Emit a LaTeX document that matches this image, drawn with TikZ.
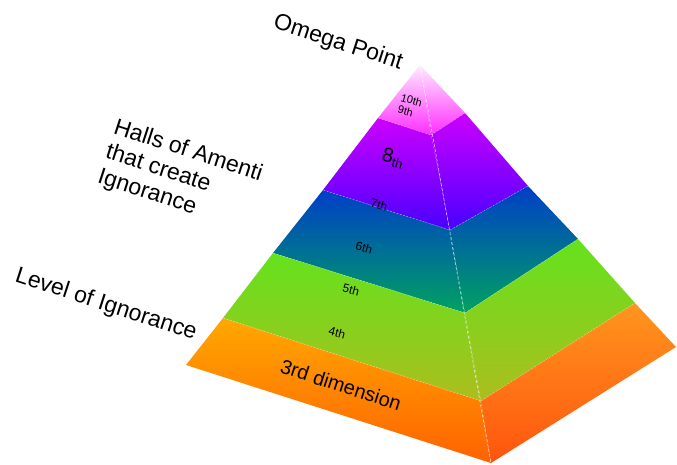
\documentclass[tikz,border=0pt]{standalone}
\usepackage{fontspec}
\setmainfont{Liberation Sans}
\begin{document}
\begin{tikzpicture}[x=1pt,y=-1pt,
  bigtext/.style={font=\fontsize{23}{26}\selectfont, rotate=-18, inner sep=0pt},
  smalltext/.style={font=\fontsize{12}{13}\selectfont, rotate=-15, inner sep=0pt},
  leftface/.style={shading=axis, shading angle=-18},
  rightface/.style={shading=axis, shading angle=32},
  frontedge/.style={white, opacity=0.75, line width=0.6pt, dash pattern=on 3pt off 2pt},
  sepline/.style={white, opacity=0.45, line width=0.4pt, dash pattern=on 2pt off 1.5pt}]
\useasboundingbox (0,0) rectangle (677,465);
% colours
\definecolor{aT}{RGB}{255,235,255}\definecolor{aB}{RGB}{255,45,255}
\definecolor{bT}{RGB}{205,0,255}\definecolor{bB}{RGB}{72,0,255}
\definecolor{cT}{RGB}{0,62,200}\definecolor{cB}{RGB}{0,162,96}
\definecolor{dT}{RGB}{100,226,30}\definecolor{dB}{RGB}{172,190,30}
\definecolor{eT}{RGB}{255,168,0}\definecolor{eB}{RGB}{255,98,0}
\definecolor{eRT}{RGB}{255,150,30}\definecolor{eRB}{RGB}{255,84,14}
% points
\coordinate (A) at (420,65);
\coordinate (L1) at (378,118); \coordinate (L2) at (323,190);
\coordinate (L3) at (273,253); \coordinate (L4) at (223,318);
\coordinate (L5) at (186,365);
\coordinate (F1) at (431,135); \coordinate (F2) at (450,230);
\coordinate (F3) at (465,313); \coordinate (F4) at (481,401);
\coordinate (F5) at (491,463);
\coordinate (R1) at (465,113); \coordinate (R2) at (528,186);
\coordinate (R3) at (578,239); \coordinate (R4) at (635,303);
\coordinate (R5) at (676,347);
% faces: left
\shade[leftface, top color=aT, bottom color=aB] (A) -- (L1) -- (F1) -- cycle;
\shade[leftface, top color=bT, bottom color=bB] (L1) -- (F1) -- (F2) -- (L2) -- cycle;
\shade[leftface, top color=cT, bottom color=cB] (L2) -- (F2) -- (F3) -- (L3) -- cycle;
\shade[leftface, top color=dT, bottom color=dB] (L3) -- (F3) -- (F4) -- (L4) -- cycle;
\shade[leftface, top color=eT, bottom color=eB] (L4) -- (F4) -- (F5) -- (L5) -- cycle;
% faces: right
\shade[rightface, top color=aT, bottom color=aB] (A) -- (F1) -- (R1) -- cycle;
\shade[rightface, top color=bT, bottom color=bB] (F1) -- (R1) -- (R2) -- (F2) -- cycle;
\shade[rightface, top color=cT, bottom color=cB] (F2) -- (R2) -- (R3) -- (F3) -- cycle;
\shade[rightface, top color=dT, bottom color=dB] (F3) -- (R3) -- (R4) -- (F4) -- cycle;
\shade[rightface, top color=eRT, bottom color=eRB] (F4) -- (R4) -- (R5) -- (F5) -- cycle;
% separators
\foreach \i in {1,2,3,4} {
  \draw[sepline] (L\i) -- (F\i);
  \draw[sepline] (F\i) -- (R\i);
}
\draw[frontedge] (A) -- (F5);
% labels
\node[bigtext] (omega) at (338,43) {Omega Point};
\node[bigtext, align=left] (halls) at (180,176) {Halls of Amenti\\that create\\Ignorance};
\node[bigtext] (level) at (106,305) {Level of Ignorance};
\node[font=\fontsize{20}{22}\selectfont, rotate=-18, inner sep=0pt] (third) at (341,385) {3rd dimension};
\node[smalltext] (fourth) at (337,333) {4th};
\node[smalltext] (fifth) at (351,290) {5th};
\node[smalltext] (sixth) at (364,248) {6th};
\node[smalltext] (seventh) at (379,205) {7th};
\node[rotate=-15, inner sep=0pt] (eighth) at (393,158) {{\fontsize{20}{20}\selectfont 8}\raisebox{-3pt}{\fontsize{13}{13}\selectfont th}};
\node[font=\fontsize{11}{12}\selectfont, rotate=-15, inner sep=0pt, align=left] (ninth) at (410,106) {10th\\9th};
\end{tikzpicture}
\end{document}
